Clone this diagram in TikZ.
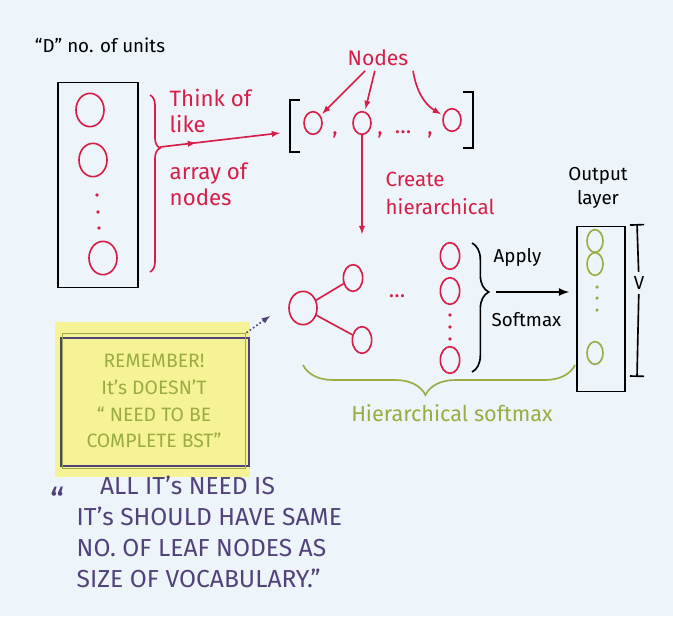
\documentclass[tikz,border=0pt]{standalone}
\usepackage{fontspec}
\setmainfont{Fira Sans}
\usetikzlibrary{shapes.geometric,arrows.meta,decorations.pathreplacing,decorations.markings}
\definecolor{paper}{RGB}{237,244,250}
\definecolor{crimson}{RGB}{214,30,72}
\definecolor{olive}{RGB}{155,172,66}
\definecolor{notey}{RGB}{246,242,150}
\definecolor{plum}{RGB}{82,66,122}

\begin{document}
\begin{tikzpicture}[x=0.3mm,y=-0.3mm,>=latex,line width=1.4pt,
  hand/.style={font=\fontsize{16}{21}\selectfont},
  big/.style={font=\fontsize{19}{22}\selectfont},
  unit/.style={draw=crimson,ellipse,inner sep=0pt,minimum width=8.4mm,minimum height=10mm},
  leaf/.style={draw=crimson,ellipse,inner sep=0pt,minimum width=5.8mm,minimum height=8mm},
  elem/.style={draw=crimson,ellipse,inner sep=0pt,minimum width=5.4mm,minimum height=6.8mm},
  outunit/.style={draw=olive,ellipse,inner sep=0pt,minimum width=4.8mm,minimum height=6.8mm}]

\useasboundingbox (0,0) rectangle (673,616);
\fill[paper] (0,0) rectangle (673,616);

\node[hand] (D) at (100,45)
{“D” no. of units};%

\node[draw,minimum width=24mm,minimum height=61.5mm] (K) at (98,185) {};%
\node[unit] (K1) at (90,110) {};%
\node[unit] (K2) at (93,160) {};%
\node[unit] (K3) at (103,258) {};%
\fill[crimson] (97,195) circle (1.6pt) (98,212) circle (1.6pt) (99,228) circle (1.6pt);

\draw[crimson,decorate,decoration={brace,amplitude=3mm,aspect=0.3}] (150,95) -- (150,272);
\coordinate (T) at (160,147);
\coordinate (L) at (280,133);

\node[big,crimson,align=left,anchor=west] (TL) at (165,111)
{Think of\\like};%

\node[big,crimson,align=left,anchor=west] (AN) at (165,184)
{array of\\nodes};%

\draw (300,100) -- (290,100) -- (290,152) -- (300,152);
\draw (463,92) -- (473,92) -- (473,148) -- (463,148);

\node[elem] (A) at (313,123) {};%
\node[elem] (B) at (362,123) {};%
\node[elem] (C) at (452,120) {};%
\node[big,crimson] (c1) at (335,135) {,};%
\node[big,crimson] (c2) at (380,135) {,};%
\node[big,crimson] (E) at (403,132) {\dots};%
\node[big,crimson] (c3) at (430,135) {,};%

\node[crimson,font=\fontsize{18}{21}\selectfont] (N) at (378,58)
{Nodes};%

\node[crimson,align=left,anchor=west,font=\fontsize{17.5}{24}\selectfont] (X) at (381,193)
{Create\\hierarchical};%
\coordinate (H) at (362,234);

\node[unit] (R) at (303,308) {};%
\node[leaf] (U) at (353,278) {};%
\node[leaf] (W) at (362,340) {};%
\node[big,crimson] (F) at (397,296) {\dots};%

\node[leaf] (P) at (450,256) {};%
\node[leaf] (Q) at (450,291) {};%
\node[leaf] (Z) at (450,360) {};%
\fill[crimson] (450,315) circle (1.6pt) (450,327) circle (1.6pt) (450,339) circle (1.6pt);

\draw[decorate,decoration={brace,amplitude=5mm,aspect=0.38}] (472,243) -- (472,372);
\coordinate (S) at (496,292);

\node[hand,anchor=west] (AP) at (489,257)
{Apply};%

\node[hand,anchor=west] (SM) at (487,320)
{Softmax};%

\node[draw,minimum width=14.4mm,minimum height=49.5mm] (O) at (601,309) {};%
\node[outunit] (O1) at (595,241) {};%
\node[outunit] (O2) at (595,264) {};%
\node[outunit] (O3) at (595,353) {};%
\fill[olive] (597,287) circle (1.5pt) (597,298) circle (1.5pt) (597,310) circle (1.5pt);

\node[hand,align=center] (OL) at (598,188)
{Output\\layer};%

\node[hand] (V) at (639,283) {V};%
\coordinate (V1) at (637,224);
\coordinate (V2) at (637,377);

\draw[olive,decorate,decoration={brace,mirror,amplitude=9mm,aspect=0.45}] (303,365) -- (575,365);

\node[olive,font=\fontsize{18.5}{21}\selectfont] (HS) at (452,413)
{Hierarchical softmax};%

\fill[notey] (55,322) rectangle (250,477);
\draw[plum] (61,338) rectangle (249,466);
\node[draw=olive,olive,align=center,minimum width=55mm,minimum height=40.5mm,
  font=\fontsize{16.5}{23}\selectfont] (M) at (154,401)
{REMEMBER!\\It's DOESN'T\\“ NEED TO BE\\COMPLETE BST”};%
\coordinate (G) at (270,316);

\node[plum,font=\fontsize{30}{30}\selectfont] (Q0) at (58,500)
{“};%

\node[plum,align=left,anchor=west,font=\fontsize{21}{26.5}\selectfont] (QT) at (72,532)
{\hspace{7mm}ALL IT's NEED IS\\IT's SHOULD HAVE SAME\\NO. OF LEAF NODES AS\\SIZE OF VOCABULARY.”};%

\draw[crimson,->,decoration={markings,mark=at position 0.3 with {\arrow{>}}},postaction={decorate}] (T) -- (L);
\draw[crimson,->,shorten >=2pt] (N) -- (A);
\draw[crimson,->,shorten >=2pt] (N) -- (B);
\draw[crimson,->,shorten >=2pt] (N.south east) to[bend right=25] (C);
\draw[crimson,->] (B) -- (H);
\draw[crimson] (R) -- (U);
\draw[crimson] (R) -- (W);
\draw[->,line width=2pt,shorten >=6pt] (S) -- (S -| O.west);
\draw[{Bar[width=12pt]}-] (V1) -- (V);
\draw[-{Bar[width=12pt]}] (V) -- (V2);
\draw[plum,dotted,->] (M.north east) -- (G);

\end{tikzpicture}
\end{document}
